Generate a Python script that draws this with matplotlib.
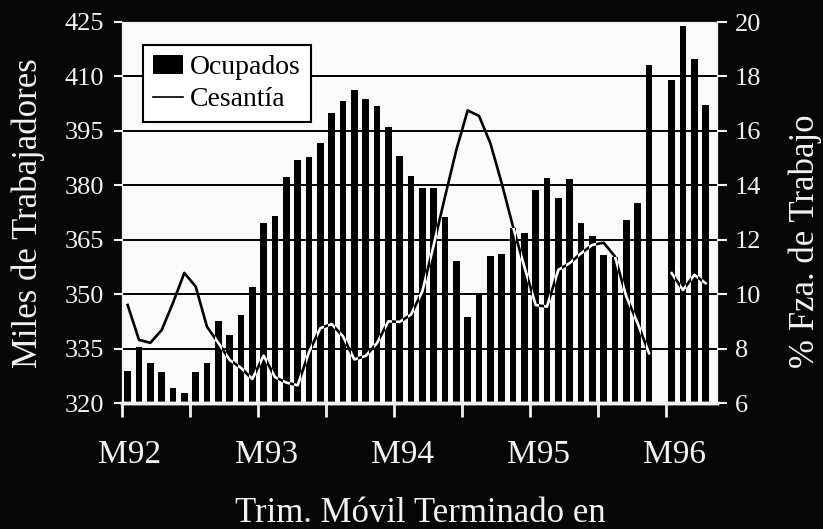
import numpy as np
import matplotlib
matplotlib.use("Agg")
import matplotlib.pyplot as plt
from matplotlib.lines import Line2D
from matplotlib.transforms import ScaledTranslation

plt.rcParams['font.family'] = ['Liberation Serif', 'DejaVu Serif']

# monthly values, Mar-92 .. Jun-96 (one month missing in the source)
ocupados = [328.9, 335.5, 331.1, 328.5, 324.2, 322.8, 328.6, 330.9, 342.7, 338.7,
            344.3, 352.1, 369.5, 371.6, 382.4, 387.0, 387.7, 391.6, 399.9, 403.1,
            406.3, 403.7, 401.9, 396.2, 388.2, 382.6, 379.2, 379.2, 371.2, 359.0,
            343.8, 349.8, 360.6, 361.1, 368.2, 366.8, 378.7, 382.1, 376.6, 381.7,
            369.7, 366.1, 360.8, 360.3, 370.5, 375.2, 413.2, np.nan, 409.1, 424.0,
            414.8, 402.2]
cesantia = [9.60, 8.32, 8.21, 8.68, 9.68, 10.78, 10.28, 8.80, 8.21, 7.58,
            7.29, 6.88, 7.74, 6.95, 6.75, 6.65, 7.87, 8.75, 8.90, 8.45,
            7.60, 7.73, 8.20, 9.00, 8.98, 9.25, 10.10, 11.80, 13.58, 15.30,
            16.75, 16.55, 15.55, 14.08, 12.48, 11.01, 9.60, 9.54, 10.89, 11.14,
            11.50, 11.81, 11.89, 11.38, 9.91, 8.93, 7.83, np.nan, 10.77, 10.15,
            10.71, 10.40]
tick_labels = ['M92', '', 'M93', '', 'M94', '', 'M95', '', 'M96']
left_ticks = [320, 335, 350, 365, 380, 395, 410, 425]
right_ticks = [6, 8, 10, 12, 14, 16, 18, 20]

x = np.arange(len(ocupados)) + 0.5
ocupados = np.array(ocupados)
cesantia = np.array(cesantia)

fg = '#f2f2f2'
bg = '#060606'

fig = plt.figure(figsize=(8.23, 5.29), dpi=100, facecolor=bg)
ax = fig.add_axes([122 / 823, 126 / 529, 595 / 823, 381 / 529])
ax.set_facecolor('#fafafa')

# gridlines
for v in left_ticks[1:-1]:
    ax.axhline(v, color='black', lw=1.4, zorder=1)

bars = ax.bar(x, ocupados - 320, bottom=320, width=0.6, color='black', zorder=2)
ax.set_xlim(0, 52.5)
ax.set_ylim(320, 425)
ax.set_yticks(left_ticks)
ax.set_xticks(np.arange(0, 49, 6))
ax.set_xticklabels(tick_labels)

ax2 = ax.twinx()
ax2.set_ylim(6, 20)
ax2.set_yticks(right_ticks)

# line: black on the white background, white where it crosses a bar
ax2.plot(x, cesantia, color='black', lw=1.9, zorder=3)
for b, h in zip(bars.patches, ocupados):
    if np.isnan(h):
        continue
    ln, = ax2.plot(x, cesantia, color='white', lw=1.9, zorder=4)
    ln.set_clip_path(b)

for a in (ax, ax2):
    for s in a.spines.values():
        s.set_color(fg)
    a.spines['bottom'].set_linewidth(2.5)

ax.tick_params(axis='y', colors=fg, labelsize=19, length=6, width=1.5, pad=7)
ax.tick_params(axis='x', colors=fg, labelsize=24, length=10, width=2, pad=16)
ax2.tick_params(axis='y', colors=fg, labelsize=19, length=7, width=1.5, pad=6)

for lbl in ax.get_xticklabels():
    lbl.set_transform(lbl.get_transform() + ScaledTranslation(8 / 100, 0, fig.dpi_scale_trans))

handles = [bars, Line2D([], [], color='black', lw=1.2)]
leg = ax2.legend(handles, ['Ocupados', 'Cesantía'], loc='upper left',
                 bbox_to_anchor=(0.035, 0.94), borderaxespad=0, fontsize=20,
                 handlelength=1.1, handleheight=0.7, handletextpad=0.25,
                 labelspacing=0.25, borderpad=0.35, fancybox=False,
                 framealpha=1, facecolor='white', edgecolor='black')
leg.get_frame().set_linewidth(1.5)

fig.text(28 / 823, 1 - 213 / 529, 'Miles de Trabajadores', rotation=90,
         ha='center', va='center', color=fg, fontsize=25)
fig.text(805 / 823, 1 - 241 / 529, '% Fza. de Trabajo', rotation=90,
         ha='center', va='center', color=fg, fontsize=25)
fig.text(420 / 823, 1 - 522 / 529, 'Trim. Móvil Terminado en',
         ha='center', va='baseline', color=fg, fontsize=25)

fig.savefig('out.png', dpi=100, facecolor=bg)
